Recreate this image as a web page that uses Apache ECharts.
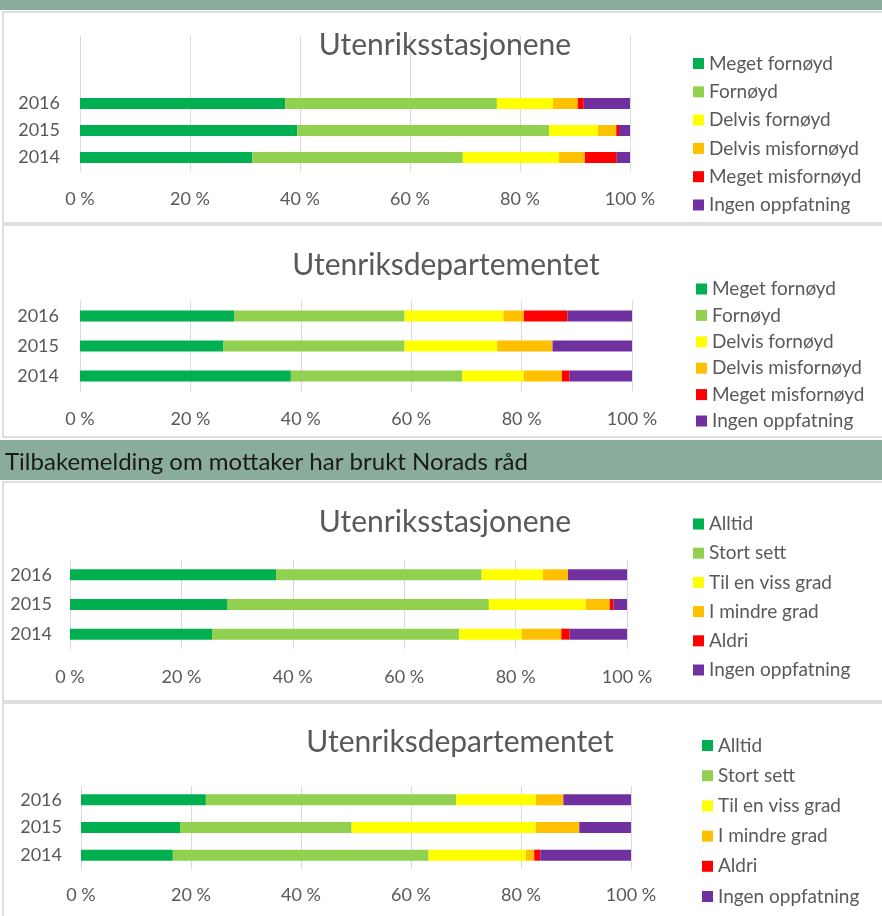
<!DOCTYPE html>
<html>
<head>
<meta charset="utf-8">
<script src="https://cdn.jsdelivr.net/npm/echarts@6/dist/echarts.min.js"></script>
<style>
  html, body { margin: 0; padding: 0; background: #fff; }
  #main { width: 882px; height: 916px; }
</style>
</head>
<body>
<div id="main"></div>
<script>
// years, bottom to top as drawn
var years = ['2014', '2015', '2016'];

var satisfactionLabels = ['Meget fornøyd', 'Fornøyd', 'Delvis fornøyd', 'Delvis misfornøyd', 'Meget misfornøyd', 'Ingen oppfatning'];
var usageLabels = ['Alltid', 'Stort sett', 'Til en viss grad', 'I mindre grad', 'Aldri', 'Ingen oppfatning'];
var colors = ['#00B050', '#92D050', '#FFFF00', '#FFC000', '#FF0000', '#7030A0'];

var sectionTitle = 'Tilbakemelding om mottaker har brukt Norads råd';
var panelTitles = ['Utenriksstasjonene', 'Utenriksdepartementet', 'Utenriksstasjonene', 'Utenriksdepartementet'];

// percent per answer, values for [2014, 2015, 2016]
var stasjonSatisfaction = [
  [31.3, 39.5, 37.3],
  [38.3, 45.8, 38.5],
  [17.5, 8.9, 10.2],
  [4.7, 3.3, 4.5],
  [5.8, 0.5, 1.1],
  [2.4, 2.0, 8.4]
];
var departementSatisfaction = [
  [38.2, 26.0, 27.9],
  [31.0, 32.8, 30.9],
  [11.2, 16.8, 17.9],
  [6.9, 10.0, 3.7],
  [1.4, 0, 7.9],
  [11.3, 14.4, 11.7]
];
var stasjonUsage = [
  [25.5, 28.3, 37.0],
  [44.4, 46.9, 36.9],
  [11.2, 17.4, 11.0],
  [7.1, 4.3, 4.5],
  [1.5, 0.7, 0],
  [10.3, 2.4, 10.6]
];
var departementUsage = [
  [16.7, 18.0, 22.7],
  [46.5, 31.2, 45.5],
  [17.7, 33.5, 14.5],
  [1.5, 7.9, 5.0],
  [1.1, 0, 0],
  [16.5, 9.4, 12.3]
];

var panelData = [stasjonSatisfaction, departementSatisfaction, stasjonUsage, departementUsage];
var panelLabels = [satisfactionLabels, satisfactionLabels, usageLabels, usageLabels];

// layout of each panel (pixels)
var layout = [
  { left: 80, width: 550, top: 36, height: 135, pad: 2, titleX: 445, titleY: 45, legLeft: 693, legTop: 54, legGap: 9.3, labMargin: 20, xMargin: 19 },
  { left: 80, width: 552, top: 301, height: 90, pad: 0, titleX: 446, titleY: 265, legLeft: 696, legTop: 279.5, legGap: 7.4, labMargin: 21, xMargin: 19 },
  { left: 70, width: 557, top: 560, height: 89, pad: 0, titleX: 445, titleY: 522, legLeft: 693, legTop: 514.5, legGap: 10.2, labMargin: 18, xMargin: 19 },
  { left: 81, width: 550, top: 786, height: 83, pad: 0, titleX: 460, titleY: 742, legLeft: 702, legTop: 736, legGap: 11.2, labMargin: 19, xMargin: 17 }
];

var font = 'Lato';
var textColor = '#595959';
var lineColor = '#d9d9d9';

var chart = echarts.init(document.getElementById('main'));

var grids = [], xAxes = [], yAxes = [], titles = [], legends = [], series = [];

layout.forEach(function (p, i) {
  grids.push({ left: p.left, top: p.top, width: p.width, height: p.height });

  xAxes.push({
    type: 'value', gridIndex: i, min: 0, max: 100, interval: 20,
    axisLine: { show: false }, axisTick: { show: false },
    splitLine: { lineStyle: { color: lineColor, width: 1 } },
    axisLabel: { formatter: '{value} %', color: textColor, fontFamily: font, fontSize: 18, margin: p.xMargin }
  });

  var cats = years.slice();
  for (var k = 0; k < p.pad; k++) cats.push(' '.repeat(k + 1));
  yAxes.push({
    type: 'category', gridIndex: i, data: cats,
    axisLine: { lineStyle: { color: lineColor } },
    axisTick: { lineStyle: { color: lineColor }, length: 5 },
    axisLabel: { color: textColor, fontFamily: font, fontSize: 18, margin: p.labMargin }
  });

  titles.push({
    text: panelTitles[i], left: p.titleX, top: p.titleY - 15, textAlign: 'center', padding: 0,
    textStyle: { color: textColor, fontFamily: font, fontSize: 30, fontWeight: 'normal', lineHeight: 30 }
  });

  legends.push({
    data: panelLabels[i], orient: 'vertical', left: p.legLeft, top: p.legTop, padding: 0,
    icon: 'rect', itemWidth: 11, itemHeight: 11, itemGap: p.legGap, selectedMode: false,
    textStyle: { color: textColor, fontFamily: font, fontSize: 19, lineHeight: 19 }
  });

  panelData[i].forEach(function (vals, j) {
    series.push({
      name: panelLabels[i][j], type: 'bar', stack: 'panel' + i,
      xAxisIndex: i, yAxisIndex: i, barWidth: 11,
      itemStyle: { color: colors[j] },
      emphasis: { disabled: true },
      data: vals
    });
  });
});

var option = {
  animation: false,
  tooltip: { show: false },
  title: titles,
  legend: legends,
  grid: grids,
  xAxis: xAxes,
  yAxis: yAxes,
  series: series,
  graphic: [
    { type: 'rect', z: -10, shape: { x: 0, y: 0, width: 882, height: 10 }, style: { fill: '#8aac9c' } },
    { type: 'rect', z: -9, shape: { x: 3, y: 12, width: 880, height: 211 }, style: { fill: '#fff', stroke: '#d4d4d4', lineWidth: 1.5 } },
    { type: 'rect', z: -9, shape: { x: 3, y: 225, width: 880, height: 212 }, style: { fill: '#fff', stroke: '#d4d4d4', lineWidth: 1.5 } },
    { type: 'rect', z: -10, shape: { x: 0, y: 440, width: 882, height: 40 }, style: { fill: '#8aac9c' } },
    { type: 'text', z: -8, x: 5, y: 462, style: { text: sectionTitle, fill: '#1a1a1a', font: '24px Lato', textVerticalAlign: 'middle' } },
    { type: 'rect', z: -9, shape: { x: 3, y: 482, width: 880, height: 219 }, style: { fill: '#fff', stroke: '#d4d4d4', lineWidth: 1.5 } },
    { type: 'rect', z: -9, shape: { x: 3, y: 703, width: 880, height: 215 }, style: { fill: '#fff', stroke: '#d4d4d4', lineWidth: 1.5 } }
  ]
};

chart.setOption(option);
</script>
</body>
</html>
